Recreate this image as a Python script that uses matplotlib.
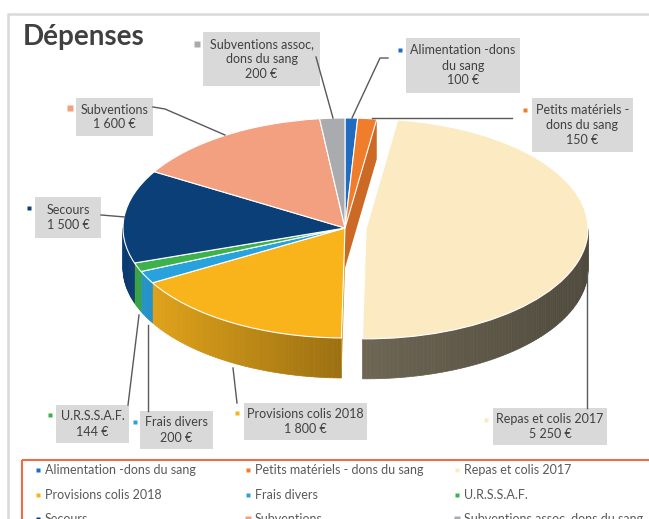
import numpy as np
import matplotlib.pyplot as plt
from matplotlib.patches import Rectangle, Polygon
from matplotlib.collections import PolyCollection
from matplotlib.colors import to_rgb

plt.rcParams['font.family'] = ['Lato', 'DejaVu Sans']

# data
categories = ["Alimentation -dons du sang", "Petits matériels - dons du sang",
              "Repas et colis 2017", "Provisions colis 2018", "Frais divers",
              "U.R.S.S.A.F.", "Secours", "Subventions",
              "Subventions assoc, dons du sang"]
box_names = ["Alimentation -dons\ndu sang", "Petits matériels -\ndons du sang",
             "Repas et colis 2017", "Provisions colis 2018", "Frais divers",
             "U.R.S.S.A.F.", "Secours", "Subventions",
             "Subventions assoc,\ndons du sang"]
amounts = [100, 150, 5250, 1800, 200, 144, 1500, 1600, 200]
explode = [0, 0, 0.095, 0, 0, 0, 0, 0, 0]
colors = ['#1F6CC0', '#F07D2C', '#FCEBC2', '#F9B41C', '#28A2DC',
          '#3DB24A', '#0B3F78', '#F2A080', '#A9ABAE']

# layout (pixels): label boxes (x0, y0, x1, y1), marker positions, leader lines
boxes = [(406, 38, 520, 93), (532, 98, 633, 152), (493, 408, 607, 445),
         (244, 403, 367, 440), (140, 411, 213, 449), (56, 405, 129, 443),
         (35, 197, 101, 238), (76, 98, 153, 136), (203, 32, 320, 86)]
marks = [(400, 50), (525, 110), (486, 420), (237, 413), (135, 422),
         (50, 415), (29, 208), (70, 108), (197, 44)]
leaders = [[(352, 118), (380, 58), (388, 58)],
           [(372, 118), (512, 118)],
           [(587, 272), (587, 408)],
           [(233, 368), (237, 403)],
           [(148, 325), (148, 411)],
           [(139, 315), (128, 405)],
           [(101, 215), (125, 217)],
           [(153, 107), (165, 109), (225, 135)],
           [(316, 57), (333, 118)]]

W, H = 649, 519
cx, cy, a, b, depth = 345, 228, 222, 110, 40
d = depth / b

fig = plt.figure(figsize=(W / 100, H / 100), dpi=100)
ax = fig.add_axes([0, 0, 1, 1])

vals = np.array(amounts, dtype=float)
edges = 90 - 360 * np.concatenate([[0], np.cumsum(vals / vals.sum())])

# side walls (front half only), darker towards the right
polys, cols = [], []
for i in range(len(vals)):
    t0, t1 = edges[i], edges[i + 1]
    mid = np.radians((t0 + t1) / 2)
    ox, oy = explode[i] * np.cos(mid), explode[i] * np.sin(mid)
    lo, hi = max(t1, -180), min(t0, 0)
    if hi <= lo:
        continue
    n = max(2, int(hi - lo) + 2)
    ts = np.radians(np.linspace(lo, hi, n))
    base = np.array(to_rgb(colors[i]))
    k = 0.7 if explode[i] > 0 else 1.0
    for p, q in zip(ts[:-1], ts[1:]):
        c = np.cos((p + q) / 2)
        f = 0.62 - 0.32 * c if c < 0 else 0.62 - 0.17 * c
        cols.append(np.clip(base * f * k, 0, 1))
        polys.append([(ox + np.cos(p), oy + np.sin(p)), (ox + np.cos(q), oy + np.sin(q)),
                      (ox + np.cos(q), oy + np.sin(q) - d), (ox + np.cos(p), oy + np.sin(p) - d)])
ax.add_collection(PolyCollection(polys, facecolors=cols, edgecolors=cols,
                                 linewidths=0.5, zorder=0.5))

# cut faces next to the exploded slice
for i in range(len(vals)):
    if explode[i] == 0:
        continue
    for j, t in [(i - 1, edges[i]), (i + 1, edges[i + 1])]:
        if 0 <= j < len(vals):
            r = np.radians(t)
            fc = np.clip(np.array(to_rgb(colors[j])) * 0.85, 0, 1)
            ax.add_patch(Polygon([(0, 0), (np.cos(r), np.sin(r)), (np.cos(r), np.sin(r) - d),
                                  (0, -d)], closed=True, facecolor=fc, edgecolor='none',
                                 zorder=0.6))

# top surface
ax.pie(vals, colors=colors, startangle=90, counterclock=False, explode=explode,
       radius=1, center=(0, 0), frame=True,
       wedgeprops=dict(edgecolor='white', linewidth=0.8, zorder=1))
ax.set_aspect('auto')
ax.set_xlim(-cx / a, (W - cx) / a)
ax.set_ylim(-(H - cy) / b, cy / b)
ax.axis('off')

# overlay in pixel units for texts
ov = fig.add_axes([0, 0, 1, 1], facecolor='none')
ov.set_xlim(0, W)
ov.set_ylim(H, 0)
ov.axis('off')

ov.plot([8, 8, W], [H, 14, 14], color='#D9D9D9', lw=1.8)
ov.text(23, 37, "Dépenses", fontsize=20, fontweight='bold', color='#404040', va='center')

for i in range(len(vals)):
    x0, y0, x1, y1 = boxes[i]
    ov.add_patch(Rectangle((x0, y0), x1 - x0, y1 - y0, facecolor='#D9D9D9', edgecolor='none'))
    txt = box_names[i] + "\n" + f"{amounts[i]:,} €".replace(",", " ")
    ov.text((x0 + x1) / 2, (y0 + y1) / 2, txt, ha='center', va='center', fontsize=9,
            color='#404040', linespacing=1.3)
    ms = 5 if i >= 7 else 3.2
    ov.plot(*marks[i], marker='s', ms=ms, color=colors[i], mec='none')
    xs, ys = zip(*leaders[i])
    ov.plot(xs, ys, color='#595959', lw=1)

# legend (bottom row is cut by the picture edge, as in the original)
ov.add_patch(Rectangle((22, 460), 640, 80, fill=False, edgecolor='#F06A45', lw=1.5))
col_x = [38, 248, 457]
row_y = [470, 495, 519]
for i, name in enumerate(categories):
    x, y = col_x[i % 3], row_y[i // 3]
    ms = 5 if i >= 7 else 3.2
    ov.plot(x, y, marker='s', ms=ms, color=colors[i], mec='none', clip_on=False)
    ov.text(x + 7, y, name, va='center', fontsize=9, color='#595959')

fig.savefig('out.png', dpi=100)
